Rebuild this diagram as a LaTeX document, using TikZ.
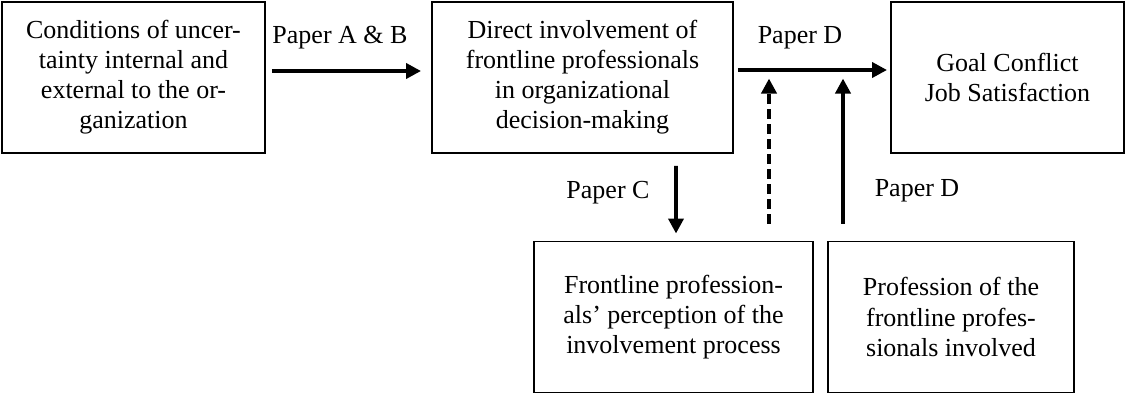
\documentclass[tikz,border=0pt]{standalone}
\usepackage{fontspec}
\setmainfont{Liberation Serif}
\usetikzlibrary{arrows.meta}
\begin{document}
\begin{tikzpicture}[
    caja/.style={draw, line width=1.1pt, align=center, minimum height=3.02cm, inner sep=0pt, font=\fontsize{14.8}{17.1}\selectfont},
    flecha/.style={line width=2.2pt, -{Triangle[length=0.3cm,width=0.3cm]}},
    etiq/.style={font=\fontsize{14.8}{17.1}\selectfont}
]
\useasboundingbox (0,0) rectangle (22.5,7.88);

% Cajas de arriba
\node[caja, minimum width=5.26cm] (cond) at (2.67,6.33) {Conditions of uncer-\\tainty internal and\\external to the or-\\ganization};
\node[caja, minimum width=6.02cm] (invol) at (11.65,6.33) {Direct involvement of\\frontline professionals\\in organizational\\decision-making};
\node[caja, minimum width=4.66cm] (goal) at (20.15,6.33) {Goal Conflict\\Job Satisfaction};

% Cajas de abajo
\node[caja, minimum width=5.58cm] (percep) at (13.47,1.54) {Frontline profession-\\als' perception of the\\involvement process};
\node[caja, minimum width=4.92cm] (prof) at (19.02,1.54) {Profession of the\\frontline profes-\\sionals involved};

% Flechas horizontales
\draw[flecha] ([xshift=0.12cm,yshift=0.13cm]cond.east) -- ([xshift=-0.2cm,yshift=0.13cm]invol.west)
    node[etiq, midway, xshift=-0.13cm, yshift=0.66cm] (labAB) {Paper A \& B};
\draw[flecha] ([xshift=0.08cm,yshift=0.15cm]invol.east) -- ([xshift=-0.06cm,yshift=0.15cm]goal.west)
    node[etiq, midway, xshift=-0.25cm, yshift=0.64cm] (labD) {Paper D};

% Flechas verticales
\draw[flecha] ([xshift=1.87cm,yshift=-0.24cm]invol.south) -- ([xshift=0.05cm,yshift=0.14cm]percep.north)
    node[etiq, midway, xshift=-1.36cm, yshift=0.14cm] (labC) {Paper C};
\draw[flecha, dash pattern=on 0.2cm off 0.1cm] ([xshift=1.91cm,yshift=0.34cm]percep.north) -- ([xshift=1.91cm,yshift=3.24cm]percep.north);
\draw[flecha] ([xshift=-2.16cm,yshift=0.34cm]prof.north) -- ([xshift=-2.16cm,yshift=3.24cm]prof.north)
    node[etiq, pos=0, xshift=1.48cm, yshift=0.66cm] (labD2) {Paper D};
\end{tikzpicture}
\end{document}
